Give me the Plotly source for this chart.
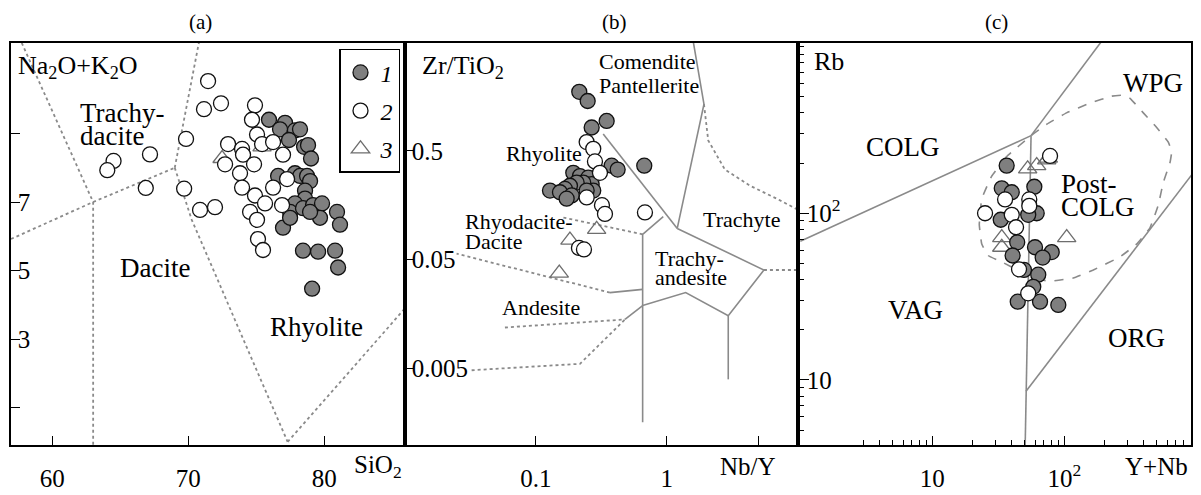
import plotly.graph_objects as go

# ------------------------------------------------------------------ data
# Panel (a): SiO2 vs Na2O+K2O
A1_SIO2 = [75.93, 77.11, 76.74, 77.84, 78.21, 77.4, 78.51, 78.8, 79.02, 76.6, 77.84, 78.21, 78.73, 78.95,
           78.58, 78.58, 77.84, 77.48, 76.96, 77.48, 78.43, 79.17, 79.83, 79.68, 78.95, 80.93, 81.15,
           78.43, 79.54, 80.79, 81.01, 79.1]
A1_ALK = [9.40, 9.31, 9.12, 9.09, 9.12, 8.81, 8.61, 8.66, 8.27, 7.76, 7.84, 7.76, 7.76, 7.61,
          7.33, 7.10, 6.96, 6.71, 6.25, 6.54, 6.82, 6.91, 6.96, 6.54, 6.71, 6.71, 6.34,
          5.58, 5.55, 5.58, 5.09, 4.47]
A2_SIO2 = [71.45, 71.15, 72.4, 69.83, 69.69, 70.86, 71.96, 64.5, 64.04, 67.18, 66.87, 74.9, 74.68, 75.05,
           72.92, 73.95, 74.02, 72.7, 74.83, 73.8, 75.42, 76.23, 76.96, 73.95, 74.9, 75.64, 74.54, 75.05,
           76.23, 77.26, 76.89, 75.12, 75.49]
A2_ALK = [10.53, 9.71, 9.88, 8.84, 7.39, 6.77, 6.85, 8.20, 7.93, 8.39, 7.41, 9.82, 9.40, 8.97,
          8.69, 8.55, 8.38, 8.10, 8.10, 7.84, 8.69, 8.75, 8.38, 7.42, 7.19, 6.96, 6.71, 6.48,
          7.42, 7.67, 6.91, 5.92, 5.60]
A3_SIO2 = [72.48, 75.42]
A3_ALK = [8.27, 8.61]

# Panel (a) field boundaries (x list, y list)
A_BOUNDS = [
    ([57.75, 63.0, 63.0], [11.64, 7.0, -0.2]),
    ([56.96, 63.0], [5.92, 7.0]),
    ([63.0, 69.0], [7.0, 8.0]),
    ([69.0, 70.8], [8.0, 11.7]),
    ([69.0, 70.25, 77.3], [8.0, 6.48, 0.0]),
    ([77.3, 86.0], [0.0, 3.93]),
]

# Panel (b): Nb/Y vs Zr/TiO2
B1_NBY = [0.2145, 0.2487, 0.2668, 0.3475, 0.674, 0.3795, 0.4218, 0.193, 0.2171, 0.2513, 0.2668, 0.23,
          0.2048, 0.182, 0.1667, 0.128, 0.1527, 0.1875, 0.1717, 0.2744, 0.2443]
B1_ZRTI = [1.742, 1.435, 0.819, 0.940, 0.365, 0.365, 0.336, 0.3134, 0.293, 0.283, 0.247, 0.255,
           0.255, 0.2385, 0.2229, 0.2153, 0.2078, 0.1942, 0.1815, 0.2153, 0.2153]
B2_NBY = [0.2443, 0.2744, 0.2828, 0.3088, 0.2443, 0.3199, 0.3373, 0.6823, 0.2133, 0.233]
B2_ZRTI = [0.6017, 0.521, 0.399, 0.3134, 0.1863, 0.158, 0.1314, 0.1355, 0.064, 0.062]
B3_NBY = [0.1508, 0.182, 0.2913, 0.1618]
B3_ZRTI = [0.0375, 0.0754, 0.0946, 0.2229]

B_SOLID = [
    ([1.60, 1.93, 1.205], [5.0, 1.342, 0.0966]),
    ([0.327, 1.205], [0.714, 0.0966]),
    ([0.942, 0.655, 0.655], [0.1243, 0.0853, 0.0016]),
    ([1.205, 5.55, 2.96, 1.398, 0.655], [0.0966, 0.0401, 0.0152, 0.02485, 0.0189]),
    ([2.96, 2.96], [0.0152, 0.00396]),
    ([0.655, 0.368], [0.0266, 0.02485]),
    ([0.48, 0.655], [0.01406, 0.0189]),
]
B_DOTTED = [
    ([1.93, 2.08, 2.79, 4.34, 6.95, 10.2], [1.342, 0.623, 0.336, 0.239, 0.1815, 0.1427]),
    ([0.655, 0.1618], [0.0853, 0.1218]),
    ([0.368, 0.0247], [0.02485, 0.0566]),
    ([5.55, 10.2], [0.0401, 0.0401]),
    ([0.0579, 0.48], [0.01186, 0.01406]),
    ([0.0322, 0.217, 0.48], [0.0048, 0.0055, 0.01406]),
]

# Panel (c): Y+Nb vs Rb
C1_YNB = [36.6, 33.6, 40.0, 59.3, 33.0, 61.8, 53.3, 44.0, 60.0, 80.3, 68.6, 40.6, 49.5, 63.5, 58.2, 44.4, 65.5, 90.1]
C1_RB = [193, 141, 133.6, 144.2, 91.4, 100, 97.8, 66.9, 62.5, 58.5, 54.2, 55.8, 45.7, 42.8, 36.2, 29.5, 29.5, 28.2]
C2_YNB = [78, 35.6, 54.3, 54.3, 25.1, 40, 43.1, 45.4, 53.3]
C2_RB = [220.6, 121, 121, 110.7, 100, 97.8, 82.4, 46.1, 33.1]
C3_YNB = [52.8, 61.8, 73.6, 104.3, 33.6, 33.6, 75.7]
C3_RB = [184.4, 193, 209, 71.5, 62.5, 71.5, 214]

C_SOLID = [
    ([1.0, 56.0], [68.0, 292.0]),
    ([56.0, 196.0], [292.0, 1100.0]),
    ([56.0, 51.3, 50.5], [292.0, 8.55, 3.9]),
    ([51.3, 950.0], [8.55, 175.0]),
]
C_POSTCOLG_X = [56, 36.6, 28.2, 23.7, 22.7, 23.7, 26.5, 34.5, 58.2, 77.9, 117, 166, 264, 353, 446, 515,
                562, 631, 651, 614, 501, 397, 314.6, 280, 228.6, 156.6, 104, 73.6, 56]
C_POSTCOLG_Y = [292, 218.6, 167, 122, 85.5, 65.3, 55.8, 50.5, 40.9, 39.1, 40.9, 45.7, 54.7, 65.3, 81.8, 111.7,
                152.8, 200, 234, 267, 327, 400, 489, 511, 504, 457, 400, 341.6, 292]

GROUP_NAMES = ["1", "2", "3"]

# ------------------------------------------------------------------ style
FONT = "Liberation Serif, Times New Roman, serif"
GRAY_FILL = "#7f7f7f"
LINE_GRAY = "#8a8a8a"
# the page body has an 8px margin, so the figure is sized to fit the window
OFF = 8
W, H = 1201 - OFF, 495 - OFF
PL, PR, PT, PB = 11, 1191, 43, 457          # plot area in window pixels
L, T = PL - OFF, PT - OFF
R = W - (PR - OFF)
B = H - (PB - OFF)
PW = PR - PL
PH = PB - PT


def px2paper(px, py):
    return (px - PL) / PW, (PB - py) / PH


fig = go.Figure()

axes = [("x", "y"), ("x2", "y2"), ("x3", "y3")]


def add_lines(lines, ax, dash, width=1.6):
    for xs, ys in lines:
        fig.add_trace(go.Scatter(x=xs, y=ys, mode="lines", xaxis=ax[0], yaxis=ax[1],
                                 line=dict(color=LINE_GRAY, width=width, dash=dash),
                                 showlegend=False, hoverinfo="skip"))


add_lines(A_BOUNDS, axes[0], "dot", 1.8)
add_lines(B_SOLID, axes[1], "solid", 1.6)
add_lines(B_DOTTED, axes[1], "dot", 1.8)
add_lines(C_SOLID, axes[2], "solid", 1.6)
fig.add_trace(go.Scatter(x=C_POSTCOLG_X, y=C_POSTCOLG_Y, mode="lines", xaxis="x3", yaxis="y3",
                         line=dict(color=LINE_GRAY, width=1.6, dash="dash", shape="spline", smoothing=0.3),
                         showlegend=False, hoverinfo="skip"))

marker_styles = {
    "1": dict(symbol="circle", size=15, color=GRAY_FILL, line=dict(color="#111111", width=1.3)),
    "2": dict(symbol="circle", size=15, color="white", line=dict(color="#111111", width=1.3)),
    "3": dict(symbol="triangle-up-open", size=16, color="#6e6e6e", line=dict(width=1.3)),
}

datasets = [
    ((A1_SIO2, A1_ALK), (A2_SIO2, A2_ALK), (A3_SIO2, A3_ALK)),
    ((B1_NBY, B1_ZRTI), (B2_NBY, B2_ZRTI), (B3_NBY, B3_ZRTI)),
    ((C1_YNB, C1_RB), (C2_YNB, C2_RB), (C3_YNB, C3_RB)),
]

# draw order: triangles, filled, open
for pi, (ax, ds) in enumerate(zip(axes, datasets)):
    for gi in [2, 0, 1]:
        name = GROUP_NAMES[gi]
        xs, ys = ds[gi]
        fig.add_trace(go.Scatter(x=xs, y=ys, mode="markers", xaxis=ax[0], yaxis=ax[1],
                                 marker=marker_styles[name], name="<i>%s</i>" % name,
                                 legendgroup=name, legendrank=gi + 1,
                                 showlegend=(pi == 0), hoverinfo="skip"))

# ------------------------------------------------------------------ axes
d1 = (405 - PL) / PW
d2 = (798 - PL) / PW
tickfont = dict(family=FONT, size=25, color="black")
common = dict(showline=True, mirror=True, linecolor="black", linewidth=1.6, showgrid=False,
              zeroline=False, ticks="inside", tickcolor="black", tickwidth=1.3, tickfont=tickfont)

fig.update_layout(
    xaxis=dict(domain=[0, d1], range=[56.96, 85.93], anchor="y", tickmode="array",
               tickvals=[60, 70, 80], ticklen=9, ticklabelstandoff=10, **common),
    yaxis=dict(domain=[0, 1], range=[-0.09, 11.64], anchor="x", tickmode="array",
               tickvals=[1, 3, 5, 7, 9], ticktext=["", "3", "5", "7", ""], ticklen=9,
               ticklabelposition="inside", **common),
    xaxis2=dict(domain=[d1, d2], type="log", range=[-2.002, 1.005], anchor="y2", tickmode="array",
                tickvals=[0.1, 1, 5], ticktext=["0.1", "1", ""], ticklen=9, ticklabelstandoff=10, **common),
    yaxis2=dict(domain=[0, 1], type="log", range=[-3.006, 0.690], anchor="x2", tickmode="array",
                tickvals=[0.5, 0.05, 0.005], ticktext=["0.5", "0.05", "0.005"], ticklen=9,
                ticklabelposition="inside", **common),
    xaxis3=dict(domain=[d2, 1], type="log", range=[-0.0174, 2.96], anchor="y3", tickmode="array",
                tickvals=[10, 100], ticktext=["10", "10<sup>2</sup>"], ticklen=9, ticklabelstandoff=10,
                minor=dict(tickmode="array", ticks="inside", ticklen=5, tickcolor="black", tickwidth=1.2,
                           tickvals=[2, 3, 4, 5, 6, 7, 8, 9, 20, 30, 40, 50, 60, 70, 80, 90,
                                     200, 300, 400, 500, 600, 700, 800, 900]),
                **common),
    yaxis3=dict(domain=[0, 1], type="log", range=[0.610, 3.021], anchor="x3", tickmode="array",
                tickvals=[10, 100], ticktext=["10", "10<sup>2</sup>"], ticklen=11,
                ticklabelposition="inside",
                minor=dict(tickmode="array", ticks="inside", ticklen=6, tickcolor="black", tickwidth=1.2,
                           tickvals=[5, 6, 7, 8, 9, 20, 30, 40, 50, 60, 70, 80, 90,
                                     200, 300, 400, 500, 600, 700, 800, 900, 1000]),
                **common),
)

# ------------------------------------------------------------------ text
annotations = []


def txt(text, px, py, size, anchor="left"):
    x, y = px2paper(px, py)
    annotations.append(dict(text=text, x=x, y=y, xref="paper", yref="paper", xanchor=anchor,
                            yanchor="middle", showarrow=False,
                            font=dict(family=FONT, size=size, color="black")))


# titles
txt("(a)", 201, 21, 21, "center")
txt("(b)", 614, 21, 21, "center")
txt("(c)", 996, 21, 21, "center")
# axis titles
txt("Na<sub>2</sub>O+K<sub>2</sub>O", 16, 68, 26)
txt("Zr/TiO<sub>2</sub>", 420, 68, 26)
txt("Rb", 812, 62, 26)
txt("SiO<sub>2</sub>", 352, 479, 25)
txt("Nb/Y", 718, 479, 25)
txt("Y+Nb", 1123, 479, 25)
# panel a fields
txt("Trachy-", 78, 115, 27)
txt("dacite", 78, 139, 27)
txt("Dacite", 118, 275, 27)
txt("Rhyolite", 268, 335, 27)
# panel b fields
txt("Comendite", 597, 62, 22)
txt("Pantellerite", 597, 87, 22)
txt("Rhyolite", 504, 157, 22)
txt("Rhyodacite-", 463, 227, 22)
txt("Dacite", 463, 247, 22)
txt("Andesite", 500, 315, 22)
txt("Trachyte", 701, 225, 22)
txt("Trachy-", 653, 265, 22)
txt("andesite", 653, 285, 22)
# panel c fields
txt("COLG", 864, 150, 27)
txt("WPG", 1121, 84, 27)
txt("VAG", 886, 318, 27)
txt("ORG", 1106, 347, 27)
txt("Post-", 1059, 188, 27)
txt("COLG", 1059, 212, 27)

lx, ly = px2paper(339, 49)
fig.update_layout(
    width=W, height=H, margin=dict(l=L, r=R, t=T, b=B),
    paper_bgcolor="white", plot_bgcolor="white",
    annotations=annotations,
    showlegend=True,
    legend=dict(x=lx, y=ly, xanchor="left", yanchor="top", bordercolor="black", borderwidth=1.5,
                bgcolor="white", font=dict(family=FONT, size=24, color="black"),
                tracegroupgap=4, itemwidth=30),
)

fig.write_html("out.html")
